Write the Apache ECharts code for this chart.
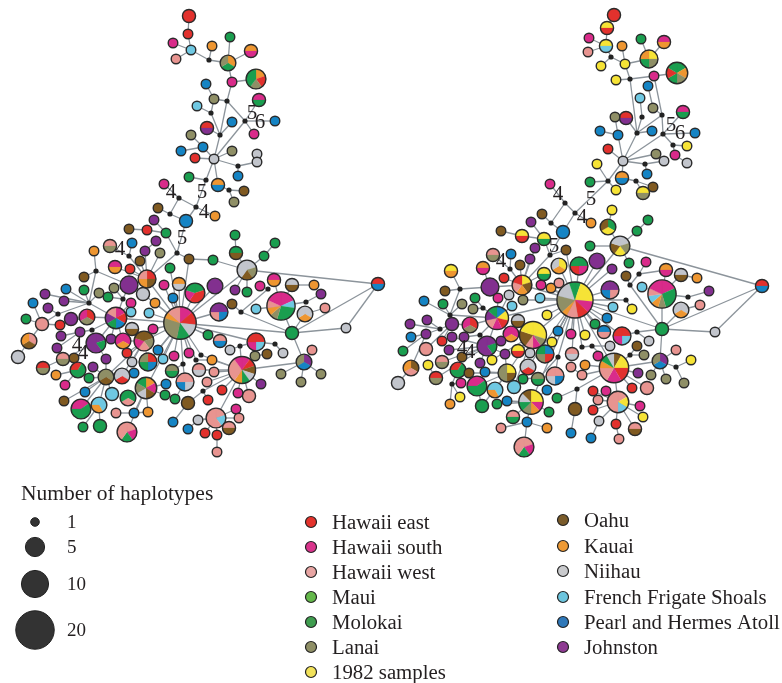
<!DOCTYPE html>
<html><head><meta charset="utf-8">
<style>html,body{margin:0;padding:0;background:#fff}#c{width:782px;height:683px}</style>
<script src="https://cdn.jsdelivr.net/npm/echarts@6/dist/echarts.min.js"></script></head>
<body><div id="c"></div>
<script>
// Region codes, names and colours
const regionCodes=['E','S','W','U','M','L','Y','O','K','N','F','P','J'];
const regionNames=['Hawaii east','Hawaii south','Hawaii west','Maui','Molokai','Lanai','1982 samples','Oahu','Kauai','Niihau','French Frigate Shoals','Pearl and Hermes Atoll','Johnston'];
const regionColors=['#e2312d','#d92b8a','#e89490','#5cb947','#1a9e4f','#8f8f66','#f6e336','#805a21','#ee9631','#c2c5cc','#6fc8e2','#1584c4','#82308f'];
const legendColors=['#e4332c','#d9348c','#e8a5a3','#64b84b','#3f9d4f','#8f8f66','#f2e25a','#7a5b2a','#ee9a35','#c9cacd','#6cc5de','#2f78b9','#8e3a92'];
const sizeCounts=[1,5,10,20];
// Nodes: id, x, y, haplotypes by region (one letter per haplotype; empty = inferred node)
const leftUpper=[['t1',189,16,'EE'],['t2',188,34,'E'],['t3',191,50,'F'],['t4',173,43,'S'],['t5',176,59,'W'],['t6',209,60,''],['t7',212,46,'K'],['t8',228,63,'KML'],['t9',230,37,'M'],['t10',251,51,'KS'],['t11',232,82,'S'],['t12',256,79,'KELMM'],['t13',227,101,''],['t14',206,84,'P'],['t15',214,99,'L'],['t16',211,113,''],['t17',197,106,'F'],['t18',259,100,'SM'],['t19',245,121,''],['t20',275,121,'P'],['t21',254,134,'S'],['t22',232,122,'P'],['t23',220,135,''],['t24',207,128,'EJ'],['t25',191,135,'L'],['t26',203,147,'P'],['t27',181,151,'P'],['t28',195,158,'E'],['t29',214,159,'N'],['t30',232,151,'L'],['t31',257,154,'N'],['t32',257,162,'N'],['t33',238,166,''],['t34',238,176,'P'],['t35',218,185,'KP'],['t36',229,190,''],['t37',244,191,'O'],['t38',234,202,'L'],['t39',206,180,''],['t40',189,177,'M'],['t41',196,207,''],['t42',215,216,'K'],['t43',179,198,''],['t44',164,184,'S'],['t45',170,214,''],['t46',158,208,'O'],['t47',186,221,'PP'],['t48',154,220,'J']];
const leftLowerA=[['a1',129,229,'O'],['a2',147,230,'E'],['a3',166,233,'M'],['a4',177,253,''],['a5',189,259,'O'],['a6',132,243,'P'],['a7',156,241,'J'],['a8',145,251,'J'],['a9',160,253,'L'],['a10',110,246,'WL'],['a11',94,251,'K'],['a12',129,256,''],['a13',140,261,'O'],['a14',115,267,'SK'],['a15',130,269,'E'],['a16',147,279,'EOKW'],['a17',170,268,'M'],['a18',96,271,''],['a19',84,277,'O'],['a20',129,285,'JJJJ'],['a21',164,285,'S'],['a22',179,284,'KN'],['a23',195,293,'MEESM'],['a24',66,289,'P'],['a25',84,290,'M'],['a26',45,294,'J'],['a27',114,288,'L'],['a28',99,293,'L'],['a29',108,297,'M'],['a30',123,299,''],['a31',143,294,'NN'],['a32',173,298,'P'],['a33',155,303,'K'],['a34',131,303,'S'],['a35',33,303,'P'],['a36',64,301,'J'],['a37',48,308,'J'],['a38',89,303,''],['a39',131,312,'F'],['a40',149,313,'F'],['a41',58,314,''],['a42',26,319,'M'],['a43',71,319,'JJ'],['a44',87,317,'ELS'],['a45',116,318,'SEPMJW'],['a46',180,323,'SSEENNMMLLLLKWW'],['a47',42,324,'WW'],['a48',60,325,'E'],['a49',80,332,'J'],['a50',92,330,''],['a51',132,329,'NO'],['a52',153,329,'S'],['a53',61,336,'J'],['a54',29,341,'WOK']];
const leftLowerB=[['a55',111,339,'J'],['a56',96,343,'JMJJJ'],['a57',123,341,'SKS'],['a58',144,341,'OLWSO'],['a59',57,348,'J'],['a61',127,353,'E'],['a62',158,350,'P'],['a63',174,356,'S'],['a64',189,353,'S'],['a65',163,359,'F'],['a66',18,357,'NN'],['a67',63,359,'WL'],['a68',74,358,'O'],['a69',132,362,'N'],['a70',148,362,'EPML'],['a71',106,359,'J'],['a72',43,368,'EL'],['a73',78,370,'EMM'],['a74',93,367,'J'],['a75',134,373,'P'],['a76',172,371,'LM'],['a77',183,364,''],['a78',196,360,''],['a79',56,375,'K'],['a80',89,378,'M'],['a81',106,377,'LOL'],['a82',122,376,'NEN'],['a83',185,382,'WNPW'],['a84',65,385,'S'],['a85',166,384,'P'],['a86',146,388,'KSONLM'],['a87',165,395,'M'],['a88',175,399,'M'],['a89',128,398,'MWM'],['a90',112,394,'FF'],['a91',85,392,'P'],['a92',188,403,'OO'],['a93',64,401,'O'],['a94',81,409,'SSMMM'],['a95',99,405,'FFK'],['a96',134,413,'P'],['a97',148,412,'K'],['a98',116,413,'W'],['a99',173,422,'P'],['a100',188,429,'P'],['a101',198,420,'N'],['a102',83,427,'M'],['a103',100,426,'MM'],['a104',127,432,'WSMWW']];
const leftRight=[['b1',235,235,'M'],['b2',236,253,'MO'],['b3',275,243,'M'],['b4',264,256,'M'],['b5',213,260,'M'],['b6',247,270,'NLONN'],['b7',215,286,'JJJ'],['b9',235,290,'J'],['b10',247,292,'M'],['b11',260,286,'S'],['b12',274,280,'SK'],['b13',268,289,''],['b14',292,285,'NO'],['b15',314,285,'K'],['b16',321,294,'J'],['b17',232,304,'O'],['b18',241,312,''],['b19',256,309,'F'],['b20',281,306,'SSFMMMLKWSS'],['b21',219,312,'JPWJ'],['b22',306,302,''],['b23',325,308,'W'],['b24',305,314,'NKN'],['b25',378,284,'EP'],['b26',346,328,'N'],['b27',292,333,'MM'],['b28',208,335,'M'],['b29',220,341,'WP'],['b30',256,342,'EFSE'],['b31',275,344,''],['b32',283,353,'N'],['b33',230,350,'N'],['b34',240,346,''],['b35',255,356,'L'],['b36',267,354,'O'],['b37',304,362,'JPL'],['b38',312,350,'W'],['b39',281,374,'L'],['b40',301,382,'L'],['b41',321,374,'L'],['b42',201,355,''],['b44',212,360,'K'],['b45',242,370,'SEONMKWWWS'],['b46',199,370,'WN'],['b47',214,372,'W'],['b48',207,382,'W'],['b49',261,384,'J'],['b50',222,390,'E'],['b51',249,396,'WW'],['b52',238,393,'S'],['b53',203,391,''],['b54',208,400,'E'],['b56',216,418,'WFWWW'],['b57',236,409,'S'],['b58',239,418,'W'],['b59',229,428,'WO'],['b61',205,433,'E'],['b62',217,435,'E'],['b63',217,452,'W']];
const rightUpper=[['r1',614,15,'EE'],['r2',607,28,'YE'],['r3',606,46,'YF'],['r4',589,38,'S'],['r5',588,52,'W'],['r6',611,57,''],['r7',601,66,'Y'],['r8',622,46,'K'],['r9',625,64,'Y'],['r10',649,59,'YLMK'],['r11',641,39,'M'],['r12',664,42,'SK'],['r13',630,79,''],['r14',616,80,'Y'],['r15',654,76,'S'],['r16',677,73,'MKLMEM'],['r17',648,86,'P'],['r18',640,98,'F'],['r19',653,108,'L'],['r20',642,117,''],['r21',662,115,''],['r22',683,112,'SM'],['r23',663,134,''],['r24',695,133,'P'],['r25',637,133,''],['r26',652,131,'P'],['r27',626,118,'EJ'],['r28',615,117,'L'],['r29',618,135,'P'],['r30',600,131,'P'],['r31',608,149,'E'],['r32',623,161,'N'],['r33',656,154,'L'],['r34',664,161,'N'],['r35',645,164,''],['r36',647,174,'P'],['r37',673,145,''],['r38',687,146,'Y'],['r39',675,155,'S'],['r40',687,163,'N'],['r41',597,164,'Y'],['r42',608,181,''],['r43',590,182,'M'],['r44',616,190,'Y'],['r45',622,178,'KP'],['r46',636,181,''],['r47',653,187,'O'],['r48',643,193,'YL'],['r49',575,213,''],['r50',565,203,''],['r51',550,184,'S'],['r52',591,223,'K'],['r53',551,223,''],['r54',542,214,'O'],['r55',531,222,'J'],['r56',563,232,'PP'],['r57',612,210,'Y'],['r59',648,220,'M']];
const rightLowerA=[['c1',501,231,'O'],['c2',522,236,'YE'],['c3',544,239,'YM'],['c5',535,248,'J'],['c6',530,259,'J'],['c7',550,255,''],['c8',566,250,'O'],['c9',493,255,'WL'],['c10',511,254,'P'],['c11',510,269,''],['c12',520,265,'O'],['c13',483,268,'KS'],['c14',451,271,'YK'],['c15',504,278,'E'],['c16',522,285,'YOKWE'],['c17',544,274,'YM'],['c18',559,266,'YKN'],['c19',579,266,'MSEM'],['c20',541,285,'S'],['c21',551,288,'K'],['c22',559,283,'W'],['c23',460,289,''],['c24',445,291,'O'],['c25',490,287,'JJJJ'],['c26',498,298,'S'],['c27',509,295,'N'],['c28',523,300,'L'],['c29',424,301,'P'],['c30',443,304,'M'],['c31',475,298,'M'],['c32',462,304,'L'],['c33',473,309,'L'],['c34',483,308,''],['c35',512,306,'F'],['c36',540,298,'F'],['c37',450,315,''],['c38',497,318,'PYESWJM'],['c39',547,315,'Y'],['c40',575,300,'MYYYYSSEEWWKLLLNNNM'],['c41',410,324,'J'],['c42',427,320,'J'],['c43',452,324,'JJ'],['c44',470,325,'ELS'],['c45',518,321,'NO'],['c46',440,329,''],['c47',426,334,'J'],['c48',411,337,'P'],['c49',452,337,'J'],['c50',464,337,'J'],['c51',480,335,''],['c52',511,334,'SKS'],['c53',533,335,'YYYLSWOOYY'],['c54',501,341,'J']];
const rightLowerB=[['c55',558,331,'P'],['c56',571,334,'S'],['c57',585,335,'Y'],['c58',442,341,'E'],['c59',487,346,'JMJJJ'],['c60',552,342,'Y'],['c61',426,349,'WW'],['c62',403,351,'M'],['c63',449,350,'J'],['c64',518,351,'YE'],['c65',505,354,'J'],['c66',462,357,'O'],['c67',530,353,'N'],['c68',545,354,'PELM'],['c69',572,354,'WN'],['c70',558,357,''],['c71',582,347,''],['c72',411,368,'OWK'],['c73',428,365,'Y'],['c74',442,362,'WL'],['c75',492,360,'Y'],['c76',480,363,'J'],['c77',458,370,'EMM'],['c78',528,367,'NEN'],['c79',507,373,'YOLL'],['c80',469,373,'O'],['c81',436,378,'EL'],['c82',485,372,'P'],['c83',523,379,'M'],['c84',538,379,'LM'],['c85',555,376,'WPNW'],['c86',571,367,'W'],['c87',398,383,'NN'],['c88',461,383,'S'],['c89',452,384,''],['c90',477,386,'SSMMM'],['c91',495,390,'FFK'],['c92',514,387,'FF'],['c93',547,390,'P'],['c94',557,398,'M'],['c95',577,389,''],['c96',460,397,'Y'],['c97',450,404,'K'],['c98',531,402,'YYSKLMNO'],['c99',497,404,'M'],['c100',482,406,'MM'],['c101',507,401,'P'],['c102',549,412,'M'],['c103',513,417,'WM'],['c104',575,409,'OO'],['c105',527,422,'P'],['c106',547,428,'K'],['c107',501,428,'W'],['c108',571,433,'P'],['c109',524,447,'WSMWW']];
const rightRight=[['d1',590,246,'M'],['d2',620,246,'NLYON'],['d3',637,231,'M'],['d4',608,227,'MYO'],['d5',597,261,'JJJ'],['d6',612,269,'J'],['d7',629,263,'M'],['d8',646,262,'S'],['d9',639,274,''],['d10',666,270,'KS'],['d11',681,275,'NO'],['d12',697,278,'K'],['d13',626,276,'O'],['d14',630,285,''],['d15',642,287,'F'],['d16',610,290,'JWPJ'],['d17',662,294,'SSMMMLKFWSS'],['d18',688,297,''],['d19',709,291,'J'],['d20',700,305,'W'],['d21',681,310,'NKN'],['d22',626,300,''],['d23',613,307,'F'],['d24',632,309,'Y'],['d25',607,318,'P'],['d26',762,286,'EP'],['d27',715,332,'N'],['d28',662,329,'MM'],['d29',595,324,'M'],['d30',604,332,'PW'],['d32',622,336,'EFSE'],['d33',637,332,''],['d34',649,341,'N'],['d35',610,346,'N'],['d36',637,346,'O'],['d37',592,346,''],['d39',630,355,''],['d40',644,355,'L'],['d41',660,361,'JPL'],['d42',676,350,'W'],['d43',691,360,'Y'],['d44',676,367,''],['d45',651,375,'L'],['d46',666,379,'L'],['d47',684,383,'L'],['d48',598,356,'S'],['d49',585,365,'K'],['d50',614,368,'OYYEESSWWKMN'],['d51',582,375,'W'],['d52',638,373,'J'],['d53',593,391,'E'],['d54',606,391,'S'],['d55',632,388,'E'],['d56',647,388,'WW'],['d57',598,400,'W'],['d58',618,402,'WYFWWW'],['d59',640,406,'S'],['d60',643,417,'Y'],['d61',593,410,'E'],['d62',599,421,'N'],['d63',616,424,'E'],['d64',635,429,'WO'],['d65',619,439,'W'],['d66',591,438,'P']];
// Links between haplotypes
const leftLinks=`t1-t2 t2-t3 t3-t4 t3-t5 t3-t6 t6-t7 t6-t8 t8-t9 t8-t10 t8-t11 t11-t12 t11-t13 t13-t15 t15-t14 t15-t16 t16-t17 t16-t23 t13-t23 t13-t19 t19-t18 t19-t20 t19-t21 t19-t29 t23-t22 t23-t24 t23-t29 t29-t26 t26-t25 t26-t27 t29-t28 t29-t30 t29-t33 t33-t32 t33-t34 t31-t32 t29-t35 t35-t36 t36-t37 t36-t38 t29-t39 t39-t40 t39-t41 t41-t42 t41-t43 t43-t44 t43-t45 t45-t46 t45-t47 t41-t47 t47-a4 t48-a3 a1-a2 a2-a3 a3-a4 a4-a5 a5-a46 a4-a16 a9-a16 a7-a8 a8-a16 a13-a16 a6-a12 a12-a16 a10-a12 a15-a16 a14-a16 a17-a46 a16-a46 a20-a16 a20-a30 a18-a20 a18-a11 a18-a38 a18-a19 a38-a25 a38-a24 a38-a26 a38-a36 a38-a28 a38-a45 a38-a41 a41-a37 a41-a47 a47-a42 a47-a35 a47-a54 a54-a66 a47-a48 a48-a44 a43-a44 a44-a45 a45-a50 a50-a49 a49-a53 a49-a59 a45-a46 a45-a39 a45-a34 a30-a45 a30-a29 a30-a27 a45-a56 a45-a55 a45-a57 a56-a71 a56-a67 a67-a72 a67-a68 a68-a73 a73-a79 a73-a84 a73-a80 a71-a81 a81-a74 a81-a80 a81-a91 a81-a93 a81-a94 a81-a95 a81-a90 a81-a58 a58-a46 a58-a51 a58-a57 a58-a61 a58-a69 a70-a46 a70-a58 a82-a75 a82-a58 a86-a46 a86-a85 a86-a87 a86-a89 a86-a96 a86-a97 a86-a104 a96-a97 a96-a98 a95-a102 a95-a103 a94-a95 a46-a62 a46-a63 a46-a64 a46-a65 a46-a52 a46-a40 a46-a33 a46-a32 a46-a21 a46-a22 a46-a31 a77-a46 a77-a76 a77-a83 a78-a46 a83-a88 a92-a99 a92-b53 a100-a101 a101-b56 a46-b6 b6-b4 b4-b3 b6-b2 b2-b1 b6-b5 b5-a5 a46-a23 a46-b7 a46-b21 a46-b27 a46-b30 a46-b29 a46-b28 a46-b42 a78-b44 b42-b45 b34-b30 b34-b45 b34-b33 b30-b31 b31-b32 b35-b45 b36-b35 b45-b37 b37-b38 b37-b39 b37-b40 b37-b41 b27-b37 b27-b26 b26-b25 b27-b25 b25-b6 b27-b20 b27-b24 b27-b18 b18-b17 b18-b13 b13-b11 b12-b20 b19-b20 b14-b15 b14-b20 b20-b22 b22-b16 b23-b24 b6-b9 b6-b10 b44-b45 b45-b46 b45-b47 b45-b48 b45-b49 b45-b50 b45-b51 b45-b52 b53-b45 b53-b54 b45-b56 b56-b57 b56-b58 b56-b59 b56-a101 b56-b61 b56-b62 b62-b63`;
const rightLinks=`r1-r2 r2-r3 r3-r4 r3-r5 r3-r6 r6-r7 r6-r9 r9-r8 r9-r10 r10-r11 r10-r12 r9-r13 r13-r14 r13-r15 r15-r16 r13-r25 r15-r21 r21-r19 r19-r17 r20-r18 r20-r25 r21-r25 r21-r23 r23-r22 r23-r24 r23-r37 r37-r38 r37-r39 r39-r40 r23-r32 r25-r26 r25-r27 r25-r32 r32-r29 r29-r28 r29-r30 r32-r31 r32-r33 r32-r35 r35-r34 r35-r36 r32-r45 r45-r46 r46-r47 r46-r48 r32-r42 r42-r41 r42-r43 r42-r44 r42-r49 r49-r52 r49-r50 r50-r51 r50-r53 r53-r54 r53-r56 r49-r56 r55-c3 c1-c2 c2-c3 c3-c7 r56-c7 c5-c16 c6-c16 c7-c8 c7-c16 c8-c40 c9-c11 c10-c11 c11-c16 c12-c16 c15-c16 c17-c16 c16-c40 c16-c25 c25-c13 c25-c23 c23-c14 c23-c24 c23-c37 c37-c29 c37-c30 c37-c32 c37-c38 c33-c34 c34-c38 c31-c34 c27-c38 c35-c38 c38-c40 c38-c26 c38-c44 c44-c43 c43-c46 c46-c47 c46-c42 c46-c41 c47-c48 c47-c62 c47-c72 c72-c87 c51-c38 c51-c50 c38-c59 c59-c54 c59-c66 c59-c65 c54-c52 c52-c38 c53-c40 c53-c64 c53-c67 c53-c45 c53-c79 c79-c65 c79-c82 c79-c80 c79-c90 c79-c91 c79-c100 c77-c80 c77-c89 c89-c88 c89-c96 c89-c97 c90-c100 c81-c59 c63-c59 c74-c59 c73-c81 c49-c59 c39-c40 c36-c40 c21-c40 c22-c40 c20-c40 c19-c40 c18-c40 c28-c40 c40-c55 c40-c56 c40-c60 c40-c68 c40-c69 c40-c57 d1-d2 d2-c40 d2-d3 d2-d4 d4-r57 d3-r59 d2-d26 d26-d27 d26-d28 d27-d28 d28-d17 d28-d21 d28-d14 d28-d41 d28-c40 d28-d33 d33-d32 d33-d34 d14-d13 d14-d9 d9-d8 d9-d10 d11-d12 d10-d17 d15-d17 d11-d17 d17-d18 d18-d19 d20-d21 d22-c40 d22-d24 d23-c40 d25-c40 d16-c40 d5-c40 d6-c40 d7-d2 c40-d29 c40-d30 c40-d32 c40-d50 c70-c40 c70-c84 c70-c85 c71-c40 d37-d50 d37-d35 c71-d37 d39-d40 d39-d50 d39-d36 d41-d42 d41-d44 d44-d43 d44-d47 d41-d45 d41-d46 d41-d50 d50-d48 d50-d49 d50-d52 d50-d55 d50-d56 d50-d58 c95-c94 c95-c104 c95-d50 c104-c108 d58-d53 d58-d54 d58-d57 d58-d59 d58-d60 d58-d61 d58-d62 d62-d66 d58-d63 d63-d65 d58-d64 d50-d51 d51-c86 c98-c40 c98-c93 c98-c99 c98-c101 c98-c102 c98-c105 c103-c98 c105-c106 c105-c107 c105-c109 c85-c83 c78-c40 c75-c53 c76-c59 c58-c43 c61-c43 c92-c53`;
// Multiple-mutation numbers: text, x, y
const stepLabels=[['5',252,113],['6',260,122],['4',171,192],['5',202,192],['4',204,212],['5',182,238],['4',120,249],['4',77,345],['4',83,353],['5',671,125],['6',680,133],['4',558,194],['5',591,199],['4',582,217],['5',554,246],['4',501,261],['4',462,348],['4',470,352]];
// Legend rows
const sizeLegendY=[522,547,584,630];
const colLegendY1=[522,547,572,597,622,647,672];
const colLegendY2=[520,546,571,597,622,647];

const chart=echarts.init(document.getElementById('c'));
const allNodes=[].concat(leftUpper,leftLowerA,leftLowerB,leftRight,rightUpper,rightLowerA,rightLowerB,rightRight);
const byId={};allNodes.forEach(n=>byId[n[0]]=n);
const linkPairs=(leftLinks+' '+rightLinks).split(/\s+/).map(s=>s.split('-')).filter(p=>byId[p[0]]&&byId[p[1]]);
const colorOf=c=>regionColors[regionCodes.indexOf(c)];
const radius=n=>n?4.8*Math.pow(n,0.45):2.6;
function runs(comp){const r=[];for(const ch of comp){if(r.length&&r[r.length-1][0]===ch)r[r.length-1][1]++;else r.push([ch,1]);}return r;}
const FONT='"Liberation Serif",serif';
const LEGEND_TEXT_DROP=1.5;

function nodeItem(params,api){
  const node=allNodes[params.dataIndex];
  const p=api.coord([api.value(0),api.value(1)]),comp=node[3],r=radius(comp.length);
  if(!comp)return{type:'circle',shape:{cx:p[0],cy:p[1],r},style:{fill:'#222'}};
  const rr=runs(comp),children=[];
  if(rr.length>1){
    let a=rr.length===2?Math.PI:-Math.PI/2;
    rr.forEach(([ch,cnt])=>{const b=a+cnt/comp.length*Math.PI*2;
      children.push({type:'sector',shape:{cx:p[0],cy:p[1],r,r0:0,startAngle:a,endAngle:b,clockwise:true},style:{fill:colorOf(ch),stroke:colorOf(ch),lineWidth:0.2}});a=b;});
  }
  children.push({type:'circle',shape:{cx:p[0],cy:p[1],r},style:{fill:rr.length>1?'none':colorOf(rr[0][0]),stroke:'#2b2b2b',lineWidth:1.4}});
  return{type:'group',children};
}
const textEl=(p,t,fs,align,dy)=>({type:'text',x:p[0],y:p[1]+(dy||0),style:{text:t,font:fs+'px '+FONT,fill:'#231f20',textAlign:align,textVerticalAlign:'middle'}});
const base={type:'custom',coordinateSystem:'cartesian2d',silent:true,animation:false,clip:false};
const legendDots=[];
regionNames.slice(0,7).forEach((nm,i)=>legendDots.push([311,colLegendY1[i],332,nm,i]));
regionNames.slice(7).forEach((nm,i)=>legendDots.push([563,colLegendY2[i],584,nm,i+7]));

chart.setOption({
  backgroundColor:'#fff',animation:false,
  grid:{left:0,right:0,top:0,bottom:0},
  xAxis:{type:'value',min:0,max:782,show:false},
  yAxis:{type:'value',min:0,max:683,inverse:true,show:false},
  series:[
    Object.assign({},base,{z:1,encode:{x:[0,2],y:[1,3]},
      data:linkPairs.map(([a,b])=>[byId[a][1],byId[a][2],byId[b][1],byId[b][2]]),
      renderItem:(ps,api)=>{const a=api.coord([api.value(0),api.value(1)]),b=api.coord([api.value(2),api.value(3)]);
        return{type:'line',shape:{x1:a[0],y1:a[1],x2:b[0],y2:b[1]},style:{stroke:'#8c949b',lineWidth:1.3}};}}),
    Object.assign({},base,{z:2,encode:{x:0,y:1},data:allNodes.map(n=>[n[1],n[2]]),renderItem:nodeItem}),
    Object.assign({},base,{z:3,encode:{x:0,y:1},data:stepLabels.map(s=>[s[1],s[2]]),
      renderItem:(ps,api)=>textEl(api.coord([api.value(0),api.value(1)]),stepLabels[ps.dataIndex][0],21,'center')}),
    // size legend
    Object.assign({},base,{z:3,encode:{x:0,y:1},data:sizeCounts.map((c,i)=>[35,sizeLegendY[i]]),
      renderItem:(ps,api)=>{const p=api.coord([api.value(0),api.value(1)]),c=sizeCounts[ps.dataIndex],q=api.coord([67,api.value(1)]);
        return{type:'group',children:[{type:'circle',shape:{cx:p[0],cy:p[1],r:4.3*Math.sqrt(c)},style:{fill:'#333',stroke:'#222',lineWidth:1}},textEl(q,String(c),19,'left',LEGEND_TEXT_DROP)]};}}),
    // colour legend
    Object.assign({},base,{z:3,encode:{x:0,y:1},data:legendDots.map(d=>[d[0],d[1]]),
      renderItem:(ps,api)=>{const d=legendDots[ps.dataIndex],p=api.coord([d[0],d[1]]),q=api.coord([d[2],d[1]]);
        return{type:'group',children:[{type:'circle',shape:{cx:p[0],cy:p[1],r:5.5},style:{fill:legendColors[d[4]],stroke:'#222',lineWidth:1.2}},textEl(q,d[3],20.8,'left',LEGEND_TEXT_DROP)]};}}),
    Object.assign({},base,{z:3,encode:{x:0,y:1},data:[[21,493]],
      renderItem:(ps,api)=>textEl(api.coord([api.value(0),api.value(1)]),'Number of haplotypes',21.5,'left',LEGEND_TEXT_DROP)})
  ]
});
</script></body></html>
